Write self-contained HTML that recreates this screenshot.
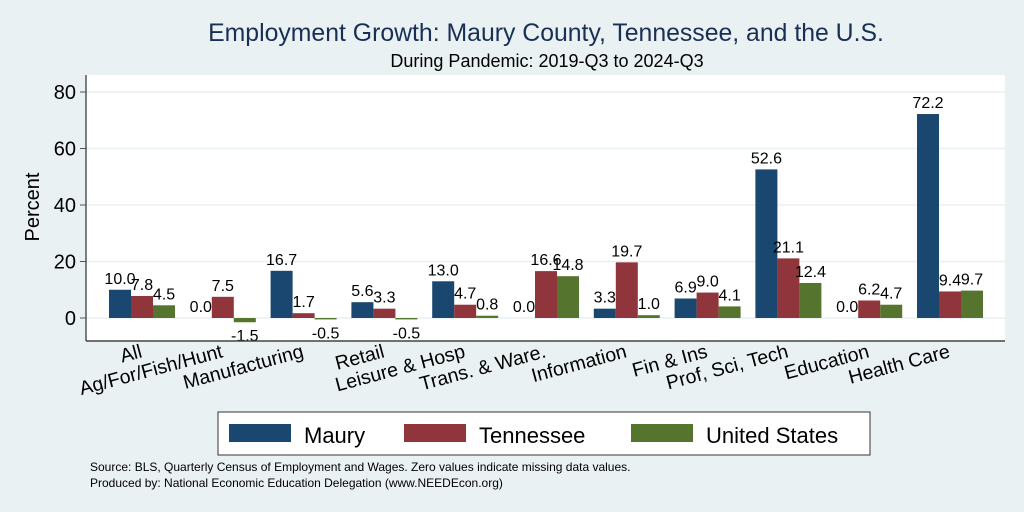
<!DOCTYPE html>
<html><head><meta charset="utf-8"><style>
body{margin:0;background:#eaf1f3;}
svg{display:block;font-family:"Liberation Sans",sans-serif;}
</style></head><body>
<svg id="c" width="1024" height="512">
<rect x="0" y="0" width="1024" height="512" fill="#eaf1f3"/>
<text x="546" y="41" text-anchor="middle" font-size="24.8" fill="#1a2f55">Employment Growth: Maury County, Tennessee, and the U.S.</text>
<text x="547" y="67" text-anchor="middle" font-size="18" fill="#000">During Pandemic: 2019-Q3 to 2024-Q3</text>
<rect x="86" y="75" width="919" height="266" fill="#fff"/>
<g id="grid"></g>
<g id="bars"></g>
<line x1="86" y1="75" x2="86" y2="341" stroke="#555" stroke-width="1.5"/>
<line x1="86" y1="341" x2="1005" y2="341" stroke="#444" stroke-width="1.5"/>
<text transform="translate(39,207) rotate(-90)" text-anchor="middle" font-size="20">Percent</text>
<g>
<rect x="218" y="412" width="652" height="43" fill="#fff" stroke="#333"/>
<rect x="229" y="424" width="62" height="18" fill="#1a476f"/>
<text x="304" y="443" font-size="22">Maury</text>
<rect x="404" y="424" width="62" height="18" fill="#90353b"/>
<text x="479" y="443" font-size="22">Tennessee</text>
<rect x="631" y="424" width="62" height="18" fill="#55752f"/>
<text x="706" y="443" font-size="22">United States</text>
</g>
<text x="90" y="471" font-size="12">Source: BLS, Quarterly Census of Employment and Wages. Zero values indicate missing data values.</text>
<text x="90" y="487" font-size="12">Produced by: National Economic Education Delegation (www.NEEDEcon.org)</text>
</svg>
<script>
const categories=["All","Ag/For/Fish/Hunt","Manufacturing","Retail","Leisure & Hosp","Trans. & Ware.","Information","Fin & Ins","Prof, Sci, Tech","Education","Health Care"];
const maury=[10.0,0.0,16.7,5.6,13.0,0.0,3.3,6.9,52.6,0.0,72.2];
const tennessee=[7.8,7.5,1.7,3.3,4.7,16.6,19.7,9.0,21.1,6.2,9.4];
const unitedStates=[4.5,-1.5,-0.5,-0.5,0.8,14.8,1.0,4.1,12.4,4.7,9.7];
const yTicks=[0,20,40,60,80];
const NS="http://www.w3.org/2000/svg";
const svg=document.getElementById('c');
const grid=document.getElementById('grid'),barsG=document.getElementById('bars');
function y(v){return 318-v*(226/80);}
function gx(i){return 109+i*80.8;}
const bw=22;
function mk(t,a,p){const e=document.createElementNS(NS,t);for(const k in a)e.setAttribute(k,a[k]);(p||svg).appendChild(e);return e;}
yTicks.forEach(t=>{
 const l=mk('line',{x1:86,x2:1005,y1:y(t),y2:y(t),stroke:'#e8eff2','stroke-width':1.5},grid);
 
 
 const tk=mk('line',{x1:80,x2:86,y1:y(t),y2:y(t),stroke:'#555'},grid);
 
 
 const tx=mk('text',{x:76,y:y(t)+7,'text-anchor':'end','font-size':20},grid);
 tx.textContent=t;
 
 
});
const series=[[maury,'#1a476f','maury'],[tennessee,'#90353b','tennessee'],[unitedStates,'#55752f','us']];
categories.forEach((c,i)=>{
 series.forEach((s,j)=>{
  const v=s[0][i],x=gx(i)+j*bw;
  const top=Math.min(y(v),y(0)),h=Math.abs(y(v)-y(0));
  const r=mk('rect',{x:x,y:top,width:bw,height:h,fill:s[1]},barsG);
  
  
  const ly=v>=0?y(v)-6:y(v)+19;
  const t=mk('text',{x:x+bw/2,y:ly,'text-anchor':'middle','font-size':16},barsG);
  t.textContent=v.toFixed(1);
  
  
 });
 const ex=gx(i)+34,ey=357;
 const t=mk('text',{transform:`translate(${ex},${ey}) rotate(-15)`,'text-anchor':'end','font-size':19.5});
 t.textContent=c;
 
 
});
</script>
</body></html>
